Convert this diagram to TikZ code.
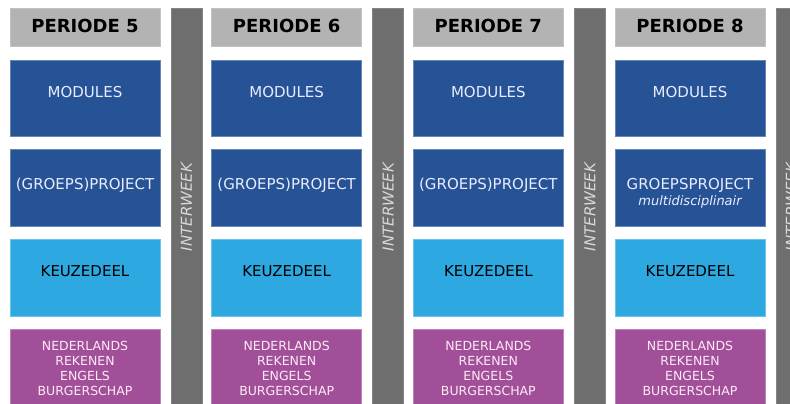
\documentclass[tikz,border=0pt]{standalone}
\usepackage{fontspec}
\setmainfont{DejaVu Sans}
\definecolor{hdrgray}{RGB}{179,179,179}
\definecolor{bargray}{RGB}{110,110,110}
\definecolor{modblue}{RGB}{37,83,150}
\definecolor{keuzeblue}{RGB}{45,168,224}
\definecolor{basispurple}{RGB}{162,79,154}
\tikzset{
  box/.style={minimum width=150pt, inner sep=0pt, outer sep=0pt, line width=0.6pt},
  hdr/.style={box, fill=hdrgray, draw=hdrgray!80!white, minimum height=38pt},
  modbox/.style={box, fill=modblue, draw=modblue!70!white, minimum height=76pt},
  keuzebox/.style={box, fill=keuzeblue, draw=keuzeblue!70!white, minimum height=77pt},
  basisbox/.style={box, fill=basispurple, draw=basispurple!70!white, minimum height=77pt},
  interbar/.style={fill=bargray, draw=bargray!85!white, line width=0.6pt, minimum width=31pt, minimum height=400pt, inner sep=0pt},
  hdrtxt/.style={anchor=base, inner sep=0pt, font=\fontsize{18}{20}\selectfont\bfseries},
  modtxt/.style={anchor=base, inner sep=0pt, text=white!92!blue, font=\fontsize{15}{17}\selectfont},
  keuzetxt/.style={anchor=base, inner sep=0pt, text=black, font=\fontsize{15}{17}\selectfont},
  basistxt/.style={anchor=base, inner sep=0pt, text=white!92!magenta, font=\fontsize{12.5}{15}\selectfont},
  bartxt/.style={rotate=90, inner sep=0pt, text=white!85!black, font=\fontsize{15}{17}\selectfont\itshape}
}
\begin{document}
\begin{tikzpicture}[x=1pt,y=-1pt]
\useasboundingbox (0,0) rectangle (790,404);
\clip (0,0) rectangle (790,404);

%columns
\foreach \n/\proj [count=\i from 0] in {5/(GROEPS)PROJECT,6/(GROEPS)PROJECT,7/(GROEPS)PROJECT,8/GROEPSPROJECT}{
  \pgfmathsetmacro\cx{85+201.67*\i}
  \pgfmathsetmacro\bx{186.5+201.67*\i}
  \node[hdr] (hdr\n) at (\cx,27) {};
  \node[hdrtxt] (hdrlbl\n) at (\cx,33) {PERIODE \n};
  \node[modbox] (mod\n) at (\cx,98) {};
  \node[modtxt] (modlbl\n) at (\cx,98) {MODULES};
  \node[modbox, minimum height=77pt] (proj\n) at (\cx,187.5) {};
  \node[modtxt] (projlbl\n) at (\cx,189) {\proj};
  \node[keuzebox] (keuze\n) at (\cx,277.5) {};
  \node[keuzetxt] (keuzelbl\n) at (\cx,276) {KEUZEDEEL};
  \node[basisbox] (basis\n) at (\cx,367.5) {};
  \foreach \w [count=\k] in {NEDERLANDS,REKENEN,ENGELS,BURGERSCHAP}
    \node[basistxt] (basislbl\n\k) at (\cx,335+15*\k) {\w};
  %interweek
  \node[interbar] (iw\n) at (\bx,208) {};
  \node[bartxt] (iwlbl\n) at (\bx,207) {INTERWEEK};
}

\node[modtxt, font=\fontsize{13}{15}\selectfont\itshape] (projsub8) at (projlbl8.base |- 0,205) {multidisciplinair};
\end{tikzpicture}
\end{document}
